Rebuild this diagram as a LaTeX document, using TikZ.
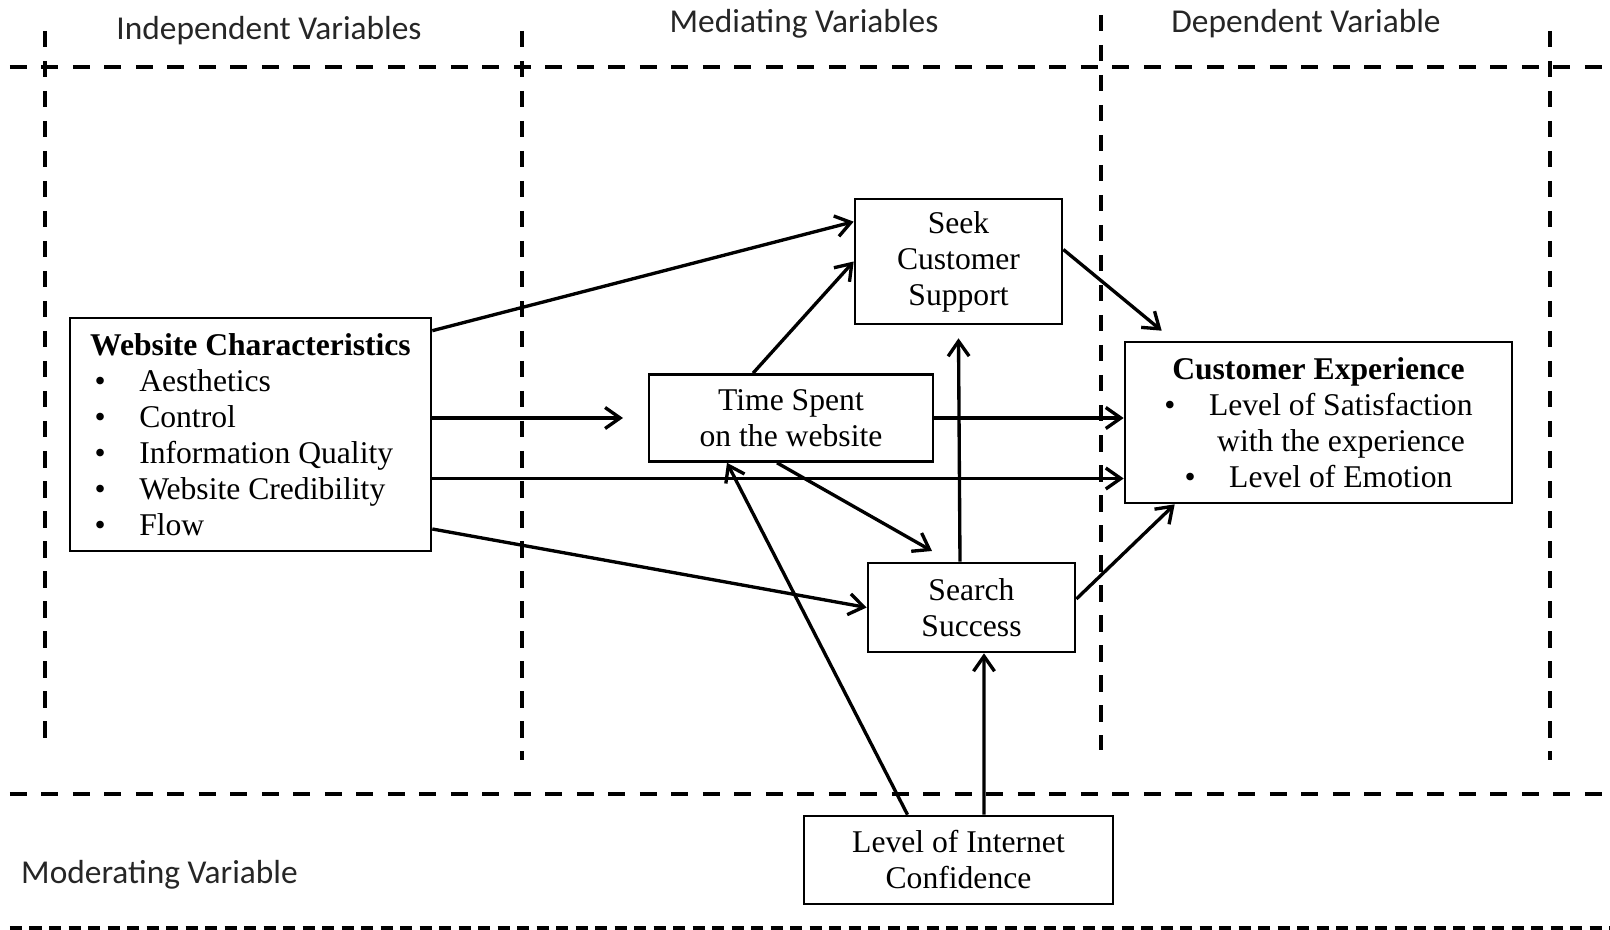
\documentclass[tikz,border=0pt]{standalone}
\usepackage{fontspec}
\setmainfont{Liberation Serif}
\newfontfamily\headfont{Carlito}
\usetikzlibrary{arrows.meta}

\newcommand{\itembul}{\textbullet\hspace{0.67cm}}

\begin{document}
\begin{tikzpicture}[
    box/.style={draw, line width=1.5pt, align=center, inner sep=0pt,
                font=\fontsize{18}{20.5}\selectfont},
    link/.style={line width=1.9pt, -{Straight Barb[length=3mm,width=4.2mm]}},
    hsep/.style={line width=2.4pt, dash pattern=on 0.34cm off 0.29cm},
    vsep/.style={line width=2.4pt, dash pattern=on 0.33cm off 0.27cm},
    head/.style={font=\headfont\fontsize{19}{22}\selectfont, text=black!85}
]

% Page frame
\useasboundingbox (0,0) rectangle (32.2,-18.6);

% Horizontal separators
\draw[hsep] (0.2,-1.34) -- (32.2,-1.34);
\draw[hsep] (0.2,-15.88) -- (32.2,-15.88);
\draw[hsep, line width=3pt, dash pattern=on 0.24cm off 0.15cm] (0.2,-18.58) -- (32.2,-18.58);

% Column separators
\draw[vsep] (0.9,-0.62) -- (0.9,-14.78);
\draw[vsep] (10.44,-0.62) -- (10.44,-15.2);
\draw[vsep] (22.02,-0.3) -- (22.02,-15.0);
\draw[vsep] (31.0,-0.62) -- (31.0,-15.2);

% Column headings
\node[head] (hind) at (5.38,-0.62) {Independent Variables};
\node[head] (hmed) at (16.08,-0.48) {Mediating Variables};
\node[head] (hdep) at (26.12,-0.48) {Dependent Variable};
\node[head, anchor=west] (hmod) at (0.30,-17.5) {Moderating Variable};

% Variables
\node[box, minimum width=7.22cm, minimum height=4.66cm, align=left] (wc) at (5.01,-8.69) {
    \textbf{Website Characteristics}\\
    \hspace*{0.09cm}\itembul Aesthetics\\
    \hspace*{0.09cm}\itembul Control\\
    \hspace*{0.09cm}\itembul Information Quality\\
    \hspace*{0.09cm}\itembul Website Credibility\\
    \hspace*{0.09cm}\itembul Flow
};
\node[box, minimum width=4.14cm, minimum height=2.5cm] (scs) at (19.17,-5.23)
    {Seek\\Customer\\Support};
\node[box, minimum width=5.68cm, minimum height=1.74cm] (ts) at (15.82,-8.36)
    {Time Spent\\on the website};
\node[box, minimum width=7.74cm, minimum height=3.22cm] (ce) at (26.37,-8.45) {
    \textbf{Customer Experience}\\
    \itembul Level of Satisfaction\\
    \hspace*{0.9cm}with the experience\\
    \itembul Level of Emotion
};
\node[box, minimum width=4.14cm, minimum height=1.78cm] (ss) at (19.43,-12.15)
    {Search\\Success};
\node[box, minimum width=6.18cm, minimum height=1.76cm] (lic) at (19.17,-17.2)
    {Level of Internet\\Confidence};

% Free arrow ends
\coordinate (tsin) at (12.46,-8.36);
\coordinate (ssin) at (18.64,-11.02);
\coordinate (wcout) at ([yshift=-0.88cm]wc.east);

% Paths
\draw[link] ([yshift=-0.28cm]wc.north east) -- ([yshift=-0.48cm]scs.north west);
\draw[link] (wc.east |- tsin) -- (tsin);
\draw[link] (ts.east) -- (ts.east -| ce.west);
\draw[link] (wcout) -- (wcout -| ce.west);
\draw[link] ([yshift=-1.89cm]wc.east) -- (ss.west);
\draw[link] ([xshift=-0.76cm]ts.north) -- (scs.west);
\draw[link] ([xshift=-0.28cm]ts.south) -- (ssin);
\draw[link] ([xshift=-0.23cm]ss.north) -- ([yshift=-0.26cm]scs.south);
\draw[link] ([yshift=0.24cm]scs.east) -- ([shift={(0.76cm,0.2cm)}]ce.north west);
\draw[link] ([yshift=0.17cm]ss.east) -- ([xshift=1.02cm]ce.south west);

% Moderation
\draw[link] ([xshift=-1.02cm]lic.north) -- ([xshift=-1.28cm]ts.south);
\draw[link] ([xshift=0.51cm]lic.north) -- ([xshift=0.25cm]ss.south);

\end{tikzpicture}
\end{document}
